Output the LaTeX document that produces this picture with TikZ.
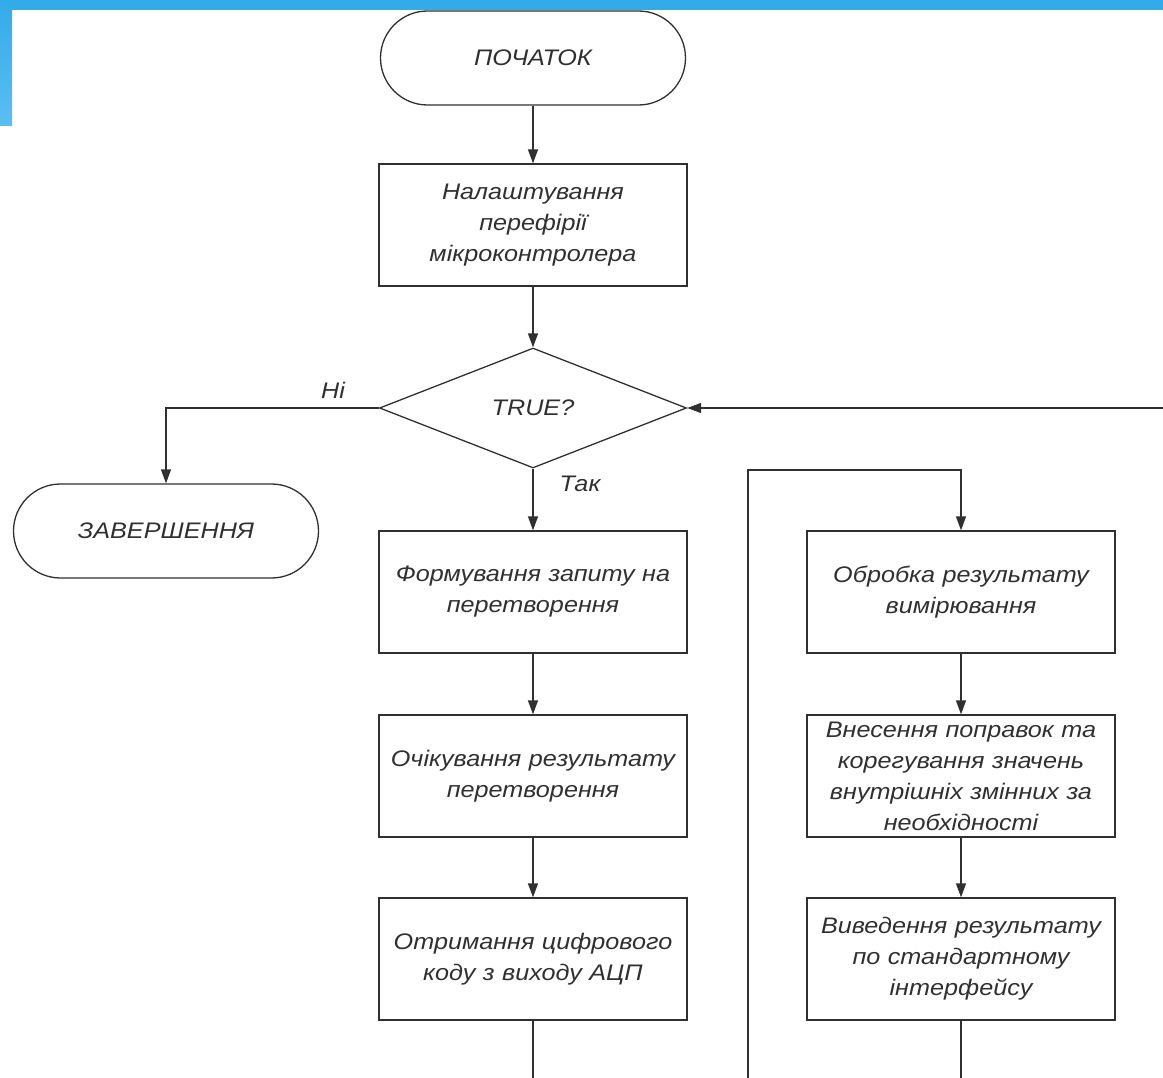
\documentclass[tikz,border=0pt]{standalone}
\usepackage{fontspec}
\setmainfont{Liberation Sans}[FakeStretch=1.12]
\usetikzlibrary{arrows.meta,shapes.geometric,positioning}
\definecolor{ln}{HTML}{303030}
\definecolor{barblue}{HTML}{33ABE9}
\definecolor{barlight}{HTML}{5BBEF3}
\tikzset{
  every node/.style={font=\fontsize{22.5}{31}\selectfont\itshape, text=ln},
  procbox/.style={draw=ln, line width=1.3pt, rectangle, minimum width=306pt, minimum height=122pt, align=center, inner sep=2pt, text width=304pt},
  termbox/.style={draw=ln, line width=1.3pt, rectangle, rounded corners=47pt, minimum width=305pt, minimum height=94pt, align=center},
  decbox/.style={draw=ln, line width=1.3pt, diamond, aspect=2.56, minimum width=307pt, minimum height=120pt, inner sep=0pt},
  conn/.style={draw=ln, line width=1.3pt},
  arr/.style={conn, -{Triangle[length=14pt,width=10pt]}},
  lbl/.style={inner sep=0pt}
}
\begin{document}
\begin{tikzpicture}[x=1pt,y=-1pt]
\useasboundingbox (0,0) rectangle (1163,1078);
% slide decoration
\fill[barblue] (0,0) rectangle (1163,10);
\shade[top color=barblue, bottom color=barlight] (0,0) rectangle (12,126);

\node[termbox] (start) at (533,58) {ПОЧАТОК};
\node[procbox] (setup) at (533,225) {Налаштування\\ перефірії\\ мікроконтролера};
\node[decbox] (dec) at (533,408) {TRUE?};
\node[termbox] (fin) at (166,531) {ЗАВЕРШЕННЯ};
\node[procbox] (req) at (533,592) {Формування запиту на\\ перетворення};
\node[procbox] (wait) at (533,776) {Очікування результату\\ перетворення};
\node[procbox] (get) at (533,959) {Отримання цифрового\\ коду з виходу АЦП};
\node[procbox] (proc) at (961,592) {Обробка результату\\ вимірювання};
\node[procbox] (corr) at (961,776) {Внесення поправок та\\ корегування значень\\ внутрішніх змінних за\\ необхідності};
\node[procbox] (out) at (961,959) {Виведення результату\\ по стандартному\\ інтерфейсу};

\node[lbl] (no) at (333,390) {Ні};
\node[lbl] (yes) at (580,484) {Так};

\coordinate (rin) at (1163,408);
\coordinate (b1) at (533,1078);
\coordinate (b2) at (748,1078);
\coordinate (b3) at (961,1078);
\coordinate (c1) at (748,470);

\draw[arr] (start) -- (setup);
\draw[arr] (setup) -- (dec);
\draw[arr] (dec.west) -| (fin.north);
\draw[arr] (dec.south) -- (req.north);
\draw[arr] (req) -- (wait);
\draw[arr] (wait) -- (get);
\draw[conn] (get.south) -- (b1);
\draw[arr] (b2) -- (c1) -| (proc.north);
\draw[arr] (proc) -- (corr);
\draw[arr] (corr) -- (out);
\draw[conn] (out.south) -- (b3);
\draw[arr] (rin) -- (dec.east);
\end{tikzpicture}
\end{document}
